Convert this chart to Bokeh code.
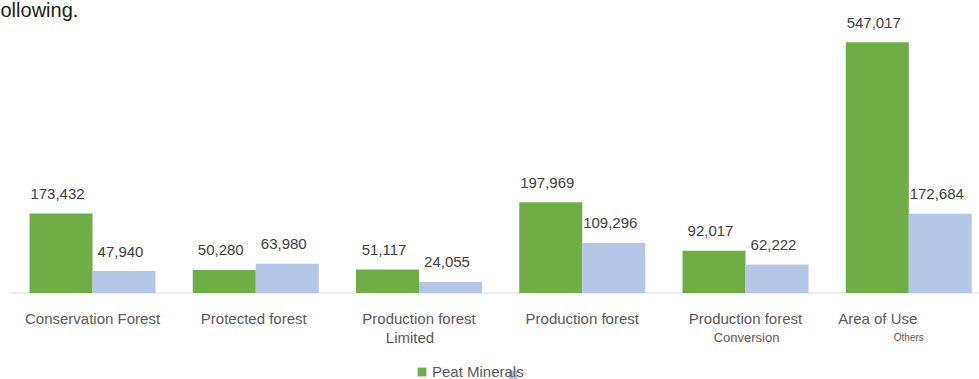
import numpy as np
from bokeh.plotting import figure
from bokeh.models import Range1d, Legend, LegendItem, ColumnDataSource
from bokeh.core.properties import value
from bokeh.embed import file_html
from bokeh.resources import INLINE

# ---------------- data ----------------
categories = ["Conservation Forest", "Protected forest", "Production forest Limited",
              "Production forest", "Production forest Conversion", "Area of Use Others"]
label_line1 = ["Conservation Forest", "Protected forest", "Production forest",
               "Production forest", "Production forest", "Area of Use"]
label_line2 = ["", "", "Limited", "", "Conversion", "Others"]
peat_minerals = [173432, 50280, 51117, 197969, 92017, 547017]
second_series = [47940, 63980, 24055, 109296, 62222, 172684]
legend_label = "Peat Minerals"

# ---------------- style ----------------
GREEN = "#70AD47"
BLUE = "#B4C7E7"
FONT = value("Liberation Sans")
line1_dx = [0, -2, 0, 0, 0, -31]
line2_dx = [0, 0, -9, 0, 1, 0]
line2_size = ["15px", "15px", "15px", "15px", "13px", "10px"]

W, H = 979, 379
unit_px = 163.25      # width of one category, px
left_px = 10.4        # left edge of first category, px
base_px = 292.5       # baseline, px from top
ymax = max(peat_minerals)
k = 250.8 / ymax      # px per value unit

p = figure(width=W, height=H, output_backend="svg", toolbar_location=None,
           x_range=Range1d(-left_px / unit_px, (W - left_px) / unit_px),
           y_range=Range1d(-(H - base_px) / k, base_px / k),
           min_border=0, min_border_left=0, min_border_right=0,
           min_border_top=0, min_border_bottom=0)
p.axis.visible = False
p.grid.visible = False
p.outline_line_color = None
p.background_fill_color = "white"
p.border_fill_color = "white"

n = len(categories)
xc = np.arange(n) + 0.5
bw = 63 / unit_px

# baseline
p.segment(x0=[0], y0=[0], x1=[n + 1], y1=[0], line_color="#d9d9d9", line_width=1)

src = ColumnDataSource(dict(
    xg=xc - bw / 2, xb=xc + bw / 2, xc=xc,
    g=peat_minerals, b=second_series,
    gl=[f"{v:,}" for v in peat_minerals], bl=[f"{v:,}" for v in second_series],
    l1=label_line1, l2=label_line2, d1=line1_dx, d2=line2_dx, s2=line2_size,
    zero=[0] * n,
))

green = p.vbar(x="xg", top="g", width=bw, source=src, fill_color=GREEN, line_color=None)
blue = p.vbar(x="xb", top="b", width=bw, source=src, fill_color=BLUE, line_color=None)

common = dict(text_font=FONT, text_align="center", text_baseline="alphabetic", source=src)
p.text(x="xg", y="g", text="gl", x_offset=-3.5, y_offset=-19.5, text_font_size="15px",
       text_color="#404040", **common)
p.text(x="xb", y="b", text="bl", x_offset=-3.5, y_offset=-19.5, text_font_size="15px",
       text_color="#404040", **common)
p.text(x="xc", y="zero", text="l1", x_offset="d1", y_offset=25.5, text_font_size="15px",
       text_color="#595959", **common)
p.text(x="xc", y="zero", text="l2", x_offset="d2", y_offset=44.5, text_font_size="s2",
       text_color="#595959", **common)

# cropped heading text at top-left
p.text(x=[p.x_range.start], y=[p.y_range.end], text=["ollowing."], y_offset=9,
       text_font=FONT, text_font_size="20px", text_color="#1a1a1a",
       text_align="left", text_baseline="alphabetic")

leg_common = dict(orientation="horizontal", padding=0, margin=0, border_line_alpha=0,
                  background_fill_alpha=0, glyph_width=11, glyph_height=11,
                  label_standoff=5, label_text_font="Liberation Sans",
                  label_text_font_size="15px", label_text_color="#595959",
                  label_height=11, spacing=0)
leg_b = Legend(items=[LegendItem(label=" ", renderers=[blue])], location=(507, -1), **leg_common)
leg_g = Legend(items=[LegendItem(label=legend_label, renderers=[green])], location=(416, -1), **leg_common)
p.add_layout(leg_b)
p.add_layout(leg_g)

open("out.html", "w").write(file_html(p, INLINE))
